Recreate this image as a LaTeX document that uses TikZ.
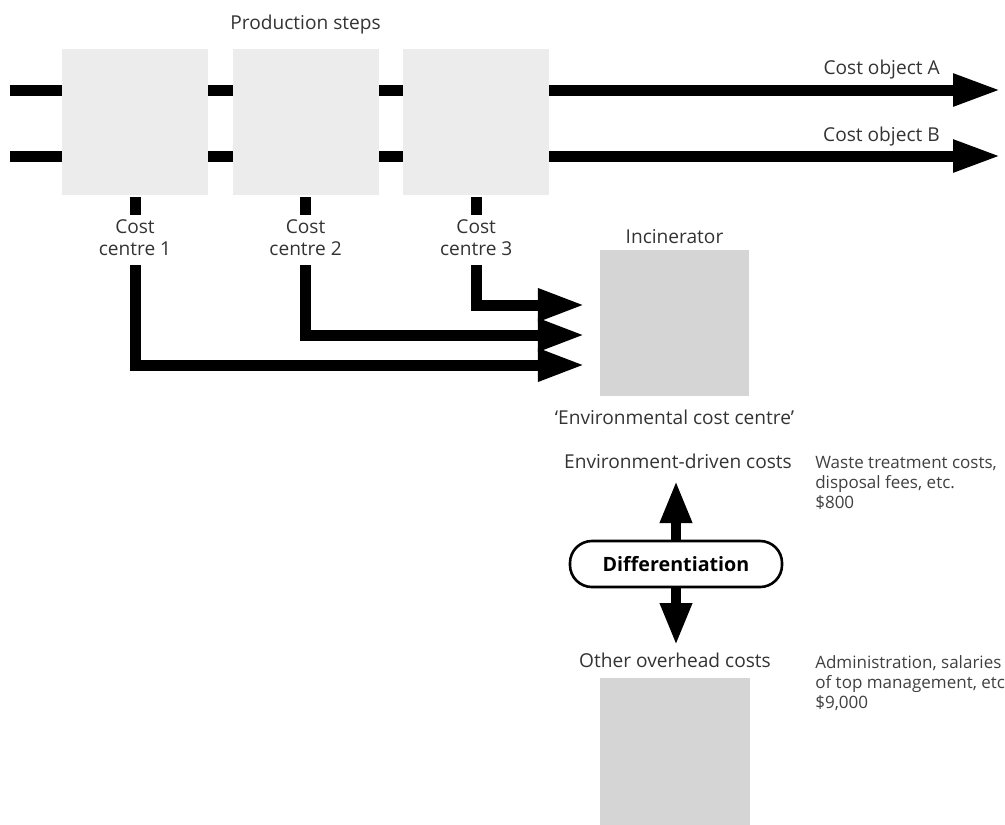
\documentclass[tikz,border=0pt]{standalone}
\usepackage{fontspec}
\setmainfont{Open Sans}
\usetikzlibrary{arrows.meta, positioning, calc, backgrounds}
\tikzset{
        stepbox/.style={rectangle, fill=gray!15, minimum width=3.65cm, minimum height=3.65cm, inner sep=0pt},
        costbox/.style={rectangle, fill=gray!33, minimum width=3.725cm, minimum height=3.65cm, inner sep=0pt},
        flow/.style={line width=0.275cm, -{Triangle[length=1.2cm, width=0.75cm]}},
        feed/.style={line width=0.275cm, -{Triangle[length=1.18cm, width=0.76cm]}},
        twoway/.style={line width=0.24cm, -{Triangle[length=1.05cm, width=0.75cm]}},
        stub/.style={line width=0.275cm},
        txt/.style={font=\fontsize{13.6}{16}\selectfont, text=black!80, align=center, inner sep=0pt},
        note/.style={font=\fontsize{12.1}{14.2}\selectfont, text=black!75, align=left, inner sep=0pt, anchor=north west},
        pill/.style={draw, line width=0.065cm, rounded corners=0.55cm, minimum width=5.3cm, minimum height=1.15cm, font=\fontsize{14}{16}\selectfont\bfseries},
    }

\begin{document}
\begin{tikzpicture}[x=0.025cm, y=-0.025cm]
        \useasboundingbox (0,0) rectangle (1005,824);

        % production steps
        \node[stepbox] (s1) at (135,122) {};
        \node[stepbox, right=0.6cm of s1] (s2) {};
        \node[stepbox, right=0.6cm of s2] (s3) {};
        \node[txt, above=0.36cm of s2] (steps) {Production steps};

        % cost objects
        \coordinate (a0) at (10,90);
        \coordinate (a1) at (1001,90);
        \coordinate (b0) at (10,156);
        \coordinate (b1) at (1001,156);
        \begin{scope}[on background layer]
            \draw[flow] (a0) -- (a1);
            \draw[flow] (b0) -- (b1);
        \end{scope}
        \node[txt, anchor=base east] (objA) at (940,74) {Cost object A};
        \node[txt, anchor=base east] (objB) at (940,141) {Cost object B};

        % cost centres
        \foreach \i in {1,2,3} {
            \node[txt, inner ysep=0.225cm, below=0.375cm of s\i] (cc\i) {Cost\\centre \i};
            \draw[stub] ($(s\i.south)+(0,2)$) -- ($(s\i.south)+(0,20)$);
        }

        % incinerator
        \node[costbox] (inc) at (674.5,323) {};
        \node[txt, above=0.14cm of inc] (inclabel) {Incinerator};
        \node[txt, below=0.34cm of inc] (envcc) {‘Environmental cost centre’};
        \coordinate (in3) at (585,305);
        \coordinate (in2) at (585,335);
        \coordinate (in1) at (585,365);
        \foreach \i in {1,2,3}
            \draw[feed] (cc\i.south) |- (in\i);

        % differentiation
        \node[txt, anchor=base] (envcost) at (678,468) {Environment-driven costs};
        \node[note] (envnote) at (815,456) {Waste treatment costs,\\disposal fees, etc.\\\$800};
        \node[pill] (diff) at (676,564) {Differentiation};
        \coordinate (up) at (676,481);
        \coordinate (down) at (676,645);
        \draw[twoway] (diff.north) -- (up);
        \draw[twoway] (diff.south) -- (down);

        % other overhead
        \node[costbox, minimum height=4cm, anchor=north] (over) at (675,678) {};
        \node[txt, above=0.25cm of over] (other) {Other overhead costs};
        \node[note] (othernote) at (815,655) {Administration, salaries\\of top management, etc.\\\$9,000};
\end{tikzpicture}
\end{document}
